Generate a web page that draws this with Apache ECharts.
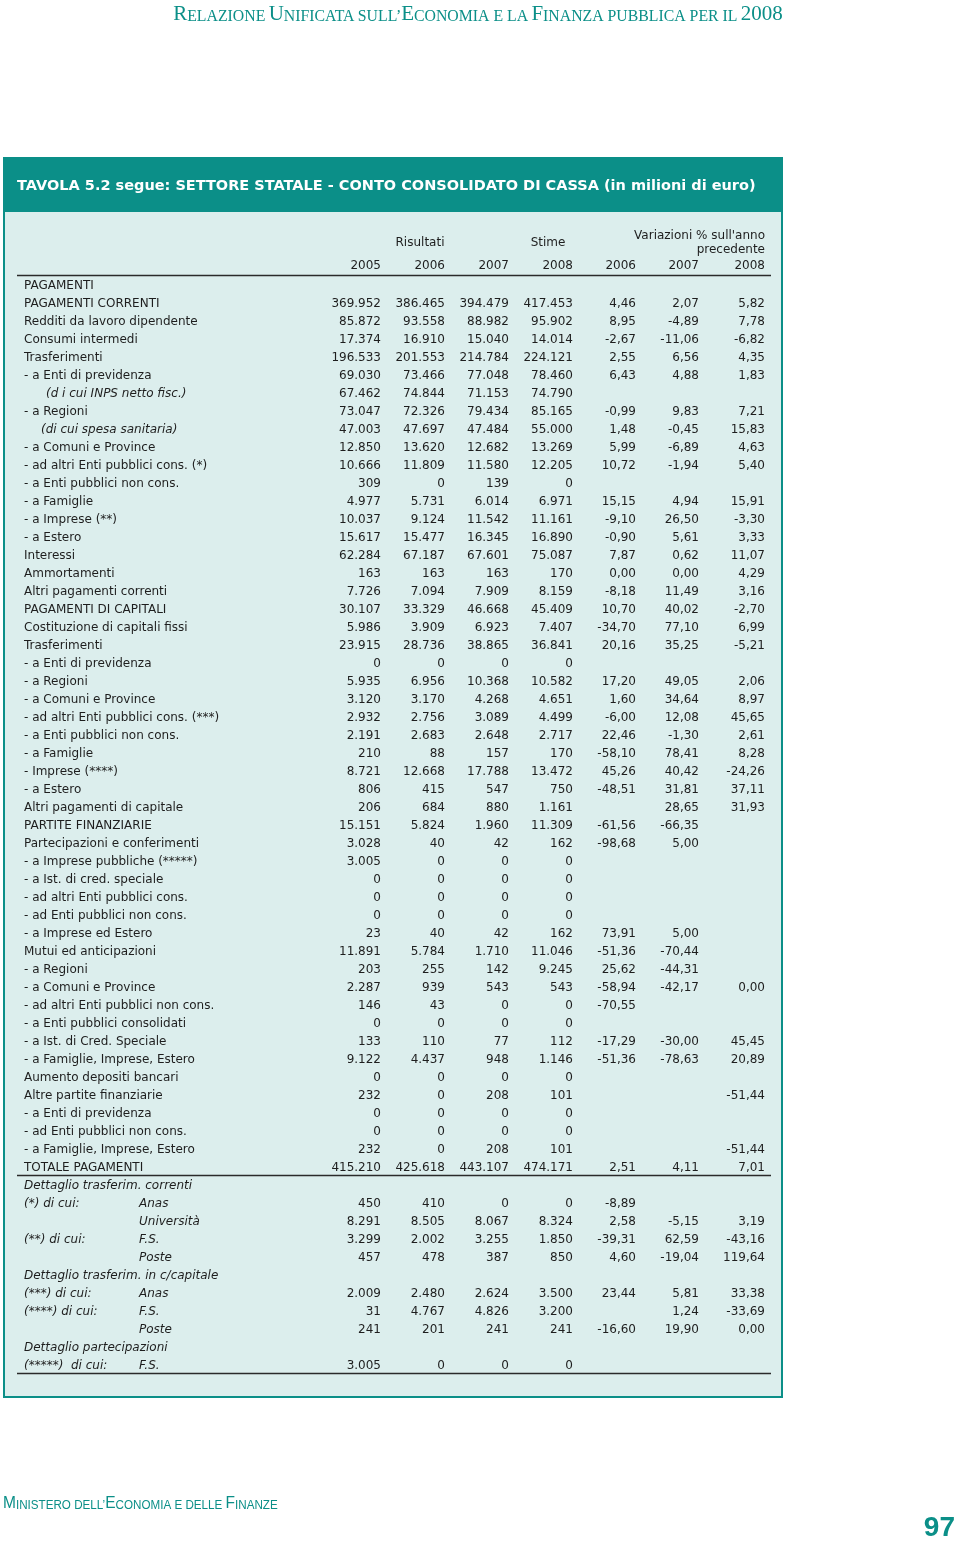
<!DOCTYPE html>
<html>
<head>
<meta charset="utf-8">
<script src="https://cdn.jsdelivr.net/npm/echarts@6/dist/echarts.min.js"></script>
<style>
    html, body { margin: 0; padding: 0; background: #fff; }
    #chart { width: 960px; height: 1543px; }
</style>
</head>
<body>
<div id="chart"></div>
<script>
    // righe della tavola
    var rowLabels = [
        'PAGAMENTI', 'PAGAMENTI CORRENTI', 'Redditi da lavoro dipendente', 'Consumi intermedi', 'Trasferimenti',
        '- a Enti di previdenza', '(d i cui INPS netto fisc.)', '- a Regioni', '(di cui spesa sanitaria)',
        '- a Comuni e Province', '- ad altri Enti pubblici cons. (*)', '- a Enti pubblici non cons.', '- a Famiglie',
        '- a Imprese (**)', '- a Estero', 'Interessi', 'Ammortamenti', 'Altri pagamenti correnti',
        'PAGAMENTI DI CAPITALI', 'Costituzione di capitali fissi', 'Trasferimenti', '- a Enti di previdenza',
        '- a Regioni', '- a Comuni e Province', '- ad altri Enti pubblici cons. (***)', '- a Enti pubblici non cons.',
        '- a Famiglie', '- Imprese (****)', '- a Estero', 'Altri pagamenti di capitale',
        'PARTITE FINANZIARIE', 'Partecipazioni e conferimenti', '- a Imprese pubbliche (*****)',
        '- a Ist. di cred. speciale', '- ad altri Enti pubblici cons.', '- ad Enti pubblici non cons.',
        '- a Imprese ed Estero', 'Mutui ed anticipazioni', '- a Regioni', '- a Comuni e Province',
        '- ad altri Enti pubblici non cons.', '- a Enti pubblici consolidati', '- a Ist. di Cred. Speciale',
        '- a Famiglie, Imprese, Estero', 'Aumento depositi bancari', 'Altre partite finanziarie',
        '- a Enti di previdenza', '- ad Enti pubblici non cons.', '- a Famiglie, Imprese, Estero',
        'TOTALE PAGAMENTI',
        'Dettaglio trasferim. correnti', '(*) di cui:', '', '(**) di cui:', '',
        'Dettaglio trasferim. in c/capitale', '(***) di cui:', '(****) di cui:', '',
        'Dettaglio partecipazioni', '(*****)  di cui:'
    ];
    var rowSubLabels = new Array(50).fill('').concat([
        '', 'Anas', 'Università', 'F.S.', 'Poste', '', 'Anas', 'F.S.', 'Poste', '', 'F.S.'
    ]);

    // valori in milioni di euro
    var v2005 = [null, 369952, 85872, 17374, 196533, 69030, 67462, 73047, 47003, 12850, 10666, 309, 4977, 10037, 15617,
        62284, 163, 7726, 30107, 5986, 23915, 0, 5935, 3120, 2932, 2191, 210, 8721, 806, 206, 15151, 3028, 3005, 0, 0, 0,
        23, 11891, 203, 2287, 146, 0, 133, 9122, 0, 232, 0, 0, 232, 415210,
        null, 450, 8291, 3299, 457, null, 2009, 31, 241, null, 3005];
    var v2006 = [null, 386465, 93558, 16910, 201553, 73466, 74844, 72326, 47697, 13620, 11809, 0, 5731, 9124, 15477,
        67187, 163, 7094, 33329, 3909, 28736, 0, 6956, 3170, 2756, 2683, 88, 12668, 415, 684, 5824, 40, 0, 0, 0, 0,
        40, 5784, 255, 939, 43, 0, 110, 4437, 0, 0, 0, 0, 0, 425618,
        null, 410, 8505, 2002, 478, null, 2480, 4767, 201, null, 0];
    var v2007 = [null, 394479, 88982, 15040, 214784, 77048, 71153, 79434, 47484, 12682, 11580, 139, 6014, 11542, 16345,
        67601, 163, 7909, 46668, 6923, 38865, 0, 10368, 4268, 3089, 2648, 157, 17788, 547, 880, 1960, 42, 0, 0, 0, 0,
        42, 1710, 142, 543, 0, 0, 77, 948, 0, 208, 0, 0, 208, 443107,
        null, 0, 8067, 3255, 387, null, 2624, 4826, 241, null, 0];
    var v2008 = [null, 417453, 95902, 14014, 224121, 78460, 74790, 85165, 55000, 13269, 12205, 0, 6971, 11161, 16890,
        75087, 170, 8159, 45409, 7407, 36841, 0, 10582, 4651, 4499, 2717, 170, 13472, 750, 1161, 11309, 162, 0, 0, 0, 0,
        162, 11046, 9245, 543, 0, 0, 112, 1146, 0, 101, 0, 0, 101, 474171,
        null, 0, 8324, 1850, 850, null, 3500, 3200, 241, null, 0];

    // variazioni % sull'anno precedente
    var p2006 = [null, 4.46, 8.95, -2.67, 2.55, 6.43, null, -0.99, 1.48, 5.99, 10.72, null, 15.15, -9.10, -0.90,
        7.87, 0.00, -8.18, 10.70, -34.70, 20.16, null, 17.20, 1.60, -6.00, 22.46, -58.10, 45.26, -48.51, null,
        -61.56, -98.68, null, null, null, null, 73.91, -51.36, 25.62, -58.94, -70.55, null, -17.29, -51.36,
        null, null, null, null, null, 2.51,
        null, -8.89, 2.58, -39.31, 4.60, null, 23.44, null, -16.60, null, null];
    var p2007 = [null, 2.07, -4.89, -11.06, 6.56, 4.88, null, 9.83, -0.45, -6.89, -1.94, null, 4.94, 26.50, 5.61,
        0.62, 0.00, 11.49, 40.02, 77.10, 35.25, null, 49.05, 34.64, 12.08, -1.30, 78.41, 40.42, 31.81, 28.65,
        -66.35, 5.00, null, null, null, null, 5.00, -70.44, -44.31, -42.17, null, null, -30.00, -78.63,
        null, null, null, null, null, 4.11,
        null, null, -5.15, 62.59, -19.04, null, 5.81, 1.24, 19.90, null, null];
    var p2008 = [null, 5.82, 7.78, -6.82, 4.35, 1.83, null, 7.21, 15.83, 4.63, 5.40, null, 15.91, -3.30, 3.33,
        11.07, 4.29, 3.16, -2.70, 6.99, -5.21, null, 2.06, 8.97, 45.65, 2.61, 8.28, -24.26, 37.11, 31.93,
        null, null, null, null, null, null, null, null, null, 0.00, null, null, 45.45, 20.89,
        null, -51.44, null, null, -51.44, 7.01,
        null, null, 3.19, -43.16, 119.64, null, 33.38, -33.69, 0.00, null, null];

    var colYears = ['2005', '2006', '2007', '2008', '2006', '2007', '2008'];

    // impaginazione
    var TEAL = '#0b8f88';
    var PANEL = '#dceeed';
    var INK = '#1e1e1e';
    var FONT = '"DejaVu Sans", Verdana, sans-serif';
    var colRight = [381, 445, 509, 573, 636, 699, 765];
    var LABEL_X = 24, SUB_X = 139, RULE_X1 = 17, RULE_X2 = 771;
    var italicRows = [6, 8, 50, 51, 52, 53, 54, 55, 56, 57, 58, 59, 60];
    var rowIndent = { 6: 22, 8: 17 };
    var ruleAfter = [49, 60];

    function fmtNum(v) {
        var s = String(Math.abs(v)).replace(/\B(?=(\d{3})+(?!\d))/g, '.');
        return (v < 0 ? '-' : '') + s;
    }
    function fmtPct(v) {
        return v.toFixed(2).replace('.', ',');
    }

    function txt(x, y, s, align, italic) {
        return {
            type: 'text',
            style: {
                x: x, y: y, text: s, align: align, verticalAlign: 'middle',
                fontFamily: FONT, fontSize: 12, fontStyle: italic ? 'italic' : 'normal', fill: INK
            }
        };
    }

    function renderRow(params, api) {
        var i = api.value(1);
        var y = api.coord([0, i])[1] + 1;
        var h = api.size([0, 1])[1];
        var italic = italicRows.indexOf(i) >= 0;
        var kids = [];
        kids.push(txt(api.coord([LABEL_X + (rowIndent[i] || 0), i])[0], y, rowLabels[i], 'left', italic));
        if (rowSubLabels[i]) {
            kids.push(txt(api.coord([SUB_X, i])[0], y, rowSubLabels[i], 'left', true));
        }
        var cols = [v2005, v2006, v2007, v2008, p2006, p2007, p2008];
        cols.forEach(function (arr, k) {
            var v = arr[i];
            if (v === null || v === undefined) return;
            kids.push(txt(api.coord([colRight[k], i])[0], y, k < 4 ? fmtNum(v) : fmtPct(v), 'right', false));
        });
        function rule(yy) {
            return {
                type: 'line',
                shape: { x1: api.coord([RULE_X1, i])[0], y1: yy, x2: api.coord([RULE_X2, i])[0], y2: yy },
                style: { stroke: '#2a2a2a', lineWidth: 1.5 }
            };
        }
        if (i === 0) kids.push(rule(y - 1 - h / 2 - 0.5));
        if (ruleAfter.indexOf(i) >= 0) kids.push(rule(y - 1 + h / 2 - 0.5));
        return { type: 'group', children: kids };
    }

    var chart = echarts.init(document.getElementById('chart'), null, { renderer: 'canvas' });

    var headerTexts = [
        { text: 'Risultati', x: 420, y: 243, align: 'center' },
        { text: 'Stime', x: 548, y: 243, align: 'center' },
        { text: "Variazioni % sull'anno", x: 765, y: 236, align: 'right' },
        { text: 'precedente', x: 765, y: 250, align: 'right' }
    ].concat(colYears.map(function (yr, k) {
        return { text: yr, x: colRight[k], y: 266, align: 'right' };
    }));

    var option = {
        animation: false,
        grid: { left: 0, right: 0, top: 276, height: 1098 },
        xAxis: { type: 'value', min: 0, max: 960, show: false },
        yAxis: {
            type: 'category', inverse: true, show: false,
            data: rowLabels.map(function (r, i) { return String(i); })
        },
        graphic: [
            // pannello
            {
                type: 'rect', z: -10,
                shape: { x: 4, y: 158, width: 778, height: 1239 },
                style: { fill: PANEL, stroke: TEAL, lineWidth: 2 }
            },
            {
                type: 'rect', z: -9,
                shape: { x: 3, y: 158, width: 780, height: 54 },
                style: { fill: TEAL }
            },
            {
                type: 'text', z: -8,
                style: {
                    x: 17, y: 186, verticalAlign: 'middle',
                    text: 'TAVOLA 5.2 segue: SETTORE STATALE - CONTO CONSOLIDATO DI CASSA (in milioni di euro)',
                    fontFamily: FONT, fontWeight: 'bold', fontSize: 14.5, fill: '#fff'
                }
            },
            // testata pagina
            {
                type: 'text',
                x: 478, y: 14,
                style: {
                    x: 0, y: 0, align: 'center', verticalAlign: 'middle',
                    text: '{b|R}{s|ELAZIONE} {b|U}{s|NIFICATA} {s|SULL\u2019}{b|E}{s|CONOMIA E LA} {b|F}{s|INANZA PUBBLICA PER IL} {b|2008}',
                    rich: {
                        b: { fontFamily: '"Liberation Serif", serif', fontSize: 21, fill: TEAL, lineHeight: 22, verticalAlign: 'bottom' },
                        s: { fontFamily: '"Liberation Serif", serif', fontSize: 15.8, fill: TEAL, lineHeight: 22, verticalAlign: 'bottom' }
                    }
                }
            },
            // piede pagina
            {
                type: 'text',
                x: 3, y: 1503, scaleX: 0.97,
                style: {
                    x: 0, y: 0, align: 'left', verticalAlign: 'middle',
                    text: '{b|M}{s|INISTERO DELL\u2019}{b|E}{s|CONOMIA E DELLE} {b|F}{s|INANZE}',
                    rich: {
                        b: { fontFamily: '"Liberation Sans", sans-serif', fontSize: 16, fill: TEAL, lineHeight: 18, verticalAlign: 'bottom' },
                        s: { fontFamily: '"Liberation Sans", sans-serif', fontSize: 12, fill: TEAL, lineHeight: 18, verticalAlign: 'bottom' }
                    }
                }
            },
            {
                type: 'text',
                style: {
                    x: 955, y: 1528, align: 'right', verticalAlign: 'middle', text: '97',
                    fontFamily: '"Liberation Sans", sans-serif', fontWeight: 'bold', fontSize: 28, fill: TEAL
                }
            }
        ].concat(headerTexts.map(function (t) {
            return {
                type: 'text',
                style: {
                    x: t.x, y: t.y, text: t.text, align: t.align, verticalAlign: 'middle',
                    fontFamily: FONT, fontSize: 12, fill: INK
                }
            };
        })),
        series: [{
            type: 'custom',
            z: 10,
            renderItem: renderRow,
            encode: { x: 0, y: 1 },
            data: rowLabels.map(function (r, i) { return [0, i]; })
        }]
    };

    chart.setOption(option);
</script>
</body>
</html>
